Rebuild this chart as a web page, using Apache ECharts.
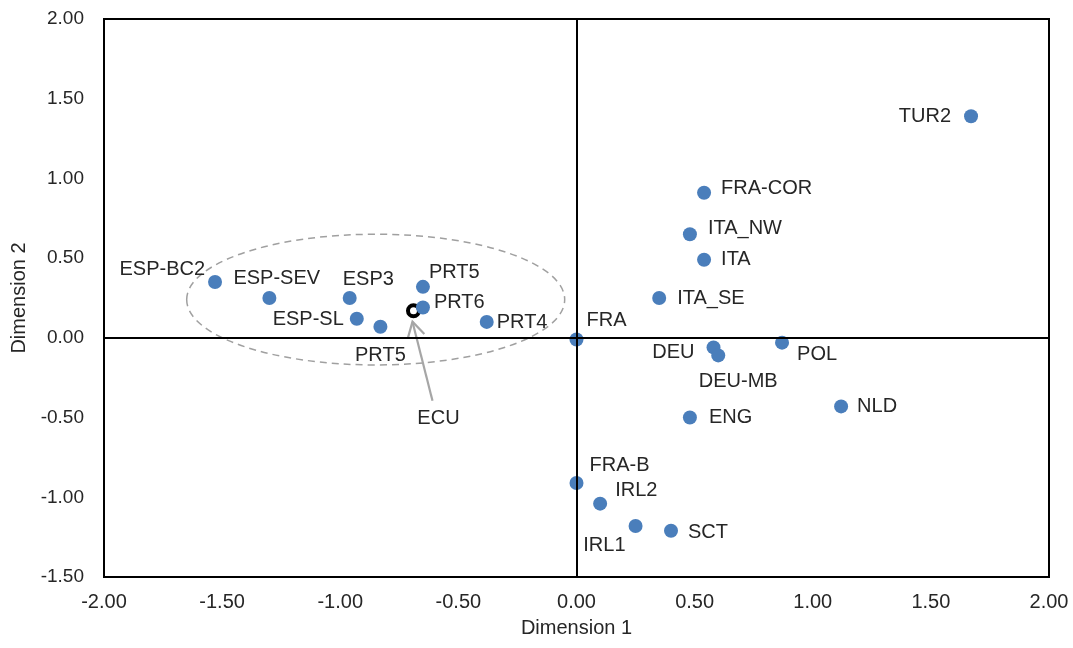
<!DOCTYPE html>
<html>
<head>
<meta charset="utf-8">
<script src="https://cdn.jsdelivr.net/npm/echarts@6/dist/echarts.min.js"></script>
<style>
  html, body { margin: 0; padding: 0; background: #ffffff; }
  #chart { width: 1073px; height: 648px; }
</style>
</head>
<body>
<div id="chart"></div>
<script>
// Site coordinates on the first two dimensions
const siteNames = [
  'TUR2', 'FRA-COR', 'ITA_NW', 'ITA', 'ITA_SE', 'FRA', 'DEU', 'DEU-MB',
  'POL', 'NLD', 'ENG', 'FRA-B', 'IRL2', 'IRL1', 'SCT',
  'ESP-BC2', 'ESP-SEV', 'ESP3', 'ESP-SL', 'PRT5', 'PRT5', 'PRT6', 'PRT4'
];
const dimension1 = [
  1.67, 0.54, 0.48, 0.54, 0.35, 0.00, 0.58, 0.60,
  0.87, 1.12, 0.48, 0.00, 0.10, 0.25, 0.40,
  -1.53, -1.30, -0.96, -0.93, -0.83, -0.65, -0.65, -0.38
];
const dimension2 = [
  1.39, 0.91, 0.65, 0.49, 0.25, -0.01, -0.06, -0.11,
  -0.03, -0.43, -0.50, -0.91, -1.04, -1.18, -1.21,
  0.35, 0.25, 0.25, 0.12, 0.07, 0.32, 0.19, 0.10
];

// Reference point drawn as a black ring
const centroidName = 'ECU';
const centroidPoint = [-0.69, 0.17];

// Dashed ellipse around the Iberian group: centre x, centre y, radius x, radius y
const clusterEllipse = [-0.85, 0.24, 0.80, 0.41];

// Axis ranges
const xRange = { min: -2, max: 2, step: 0.5 };
const yRange = { min: -1.5, max: 2, step: 0.5 };

// Label placement for each site: [text align, dx, dy] from the marker centre
const labelPlace = [
  ['right', -20, 0], ['left', 17, -4], ['left', 18, -6], ['left', 17, 0],
  ['left', 18, 0], ['left', 10, -19], ['right', -19, 5], ['center', 20, 26],
  ['left', 15, 12], ['left', 16, 0], ['left', 19, 0], ['left', 13, -17],
  ['left', 15, -13], ['right', -10, 20], ['left', 17, 2],
  ['right', -10, -13], ['left', -36, -20], ['left', -7, -19], ['right', -13, 1],
  ['center', 0, 29], ['left', 6, -14], ['left', 11, -5], ['left', 10, 1]
];

const FONT = 'Liberation Sans, Arial, sans-serif';
const TEXT = '#262626';

const siteData = siteNames.map((name, i) => ({
  name: name,
  value: [dimension1[i], dimension2[i]],
  label: {
    show: true,
    position: 'inside',
    align: labelPlace[i][0],
    verticalAlign: 'middle',
    offset: [labelPlace[i][1], labelPlace[i][2]],
    formatter: name
  }
}));

const chart = echarts.init(document.getElementById('chart'), null, { renderer: 'canvas' });

chart.setOption({
  animation: false,
  backgroundColor: '#ffffff',
  textStyle: { fontFamily: FONT },
  grid: {
    left: 104, right: 24, top: 19, bottom: 71,
    show: true, borderColor: '#000000', borderWidth: 2, backgroundColor: 'transparent'
  },
  xAxis: {
    type: 'value',
    min: xRange.min, max: xRange.max, interval: xRange.step,
    axisLine: { show: false },
    axisTick: { show: false },
    splitLine: { show: false },
    axisLabel: {
      fontSize: 20, color: TEXT, fontFamily: FONT, margin: 15,
      formatter: v => v.toFixed(2)
    },
    name: 'Dimension 1',
    nameLocation: 'middle',
    nameGap: 41,
    nameTextStyle: { fontSize: 20, color: TEXT, fontFamily: FONT }
  },
  yAxis: {
    type: 'value',
    min: yRange.min, max: yRange.max, interval: yRange.step,
    axisLine: { show: false },
    axisTick: { show: false },
    splitLine: { show: false },
    axisLabel: {
      fontSize: 19, color: TEXT, fontFamily: FONT, margin: 20,
      formatter: v => v.toFixed(2)
    },
    name: 'Dimension 2',
    nameLocation: 'middle',
    nameGap: 74,
    nameRotate: 90,
    nameTextStyle: { fontSize: 20, color: TEXT, fontFamily: FONT }
  },
  series: [
    {
      // dashed ellipse enclosing the Spanish and Portuguese sites
      type: 'custom',
      z: 1,
      silent: true,
      data: [clusterEllipse],
      renderItem: function (params, api) {
        const c = api.coord([api.value(0), api.value(1)]);
        const s = api.size([api.value(2), api.value(3)]);
        return {
          type: 'ellipse',
          shape: { cx: c[0], cy: c[1], rx: s[0], ry: s[1] },
          style: { fill: 'none', stroke: '#a0a0a0', lineWidth: 1.5, lineDash: [7, 5] }
        };
      }
    },
    {
      // reference point, plus the zero lines of both dimensions
      type: 'scatter',
      z: 2,
      symbol: 'circle',
      symbolSize: 11,
      itemStyle: { color: '#ffffff', borderColor: '#000000', borderWidth: 4, opacity: 1 },
      data: [{
        name: centroidName,
        value: centroidPoint,
        label: {
          show: true, position: 'inside', align: 'center', verticalAlign: 'middle',
          offset: [25, 108], formatter: centroidName,
          fontSize: 20, color: TEXT, fontFamily: FONT
        }
      }],
      markLine: {
        silent: true,
        symbol: ['none', 'none'],
        label: { show: false },
        lineStyle: { color: '#000000', width: 2, type: 'solid', opacity: 1 },
        data: [{ xAxis: 0 }, { yAxis: 0 }]
      }
    },
    {
      // grey arrow pointing from the ECU label to its marker
      type: 'custom',
      z: 2,
      silent: true,
      data: [centroidPoint],
      renderItem: function (params, api) {
        const p = api.coord([api.value(0), api.value(1)]);
        const tail = [p[0] + 19, p[1] + 90];
        const tip = [p[0] - 1, p[1] + 11];
        const ang = Math.atan2(tail[1] - tip[1], tail[0] - tip[0]);
        const arm = 17, spread = Math.PI / 6;
        const a1 = [tip[0] + arm * Math.cos(ang - spread), tip[1] + arm * Math.sin(ang - spread)];
        const a2 = [tip[0] + arm * Math.cos(ang + spread), tip[1] + arm * Math.sin(ang + spread)];
        const stroke = { stroke: '#a6a6a6', lineWidth: 2.2, fill: 'none' };
        return {
          type: 'group',
          children: [
            { type: 'line', shape: { x1: tail[0], y1: tail[1], x2: tip[0], y2: tip[1] }, style: stroke },
            { type: 'polyline', shape: { points: [a1, tip, a2] }, style: stroke }
          ]
        };
      }
    },
    {
      type: 'scatter',
      z: 3,
      symbol: 'circle',
      symbolSize: 14,
      itemStyle: { color: '#4a7ebb', opacity: 1 },
      label: { fontSize: 20, color: TEXT, fontFamily: FONT },
      data: siteData
    }
  ]
});
</script>
</body>
</html>
